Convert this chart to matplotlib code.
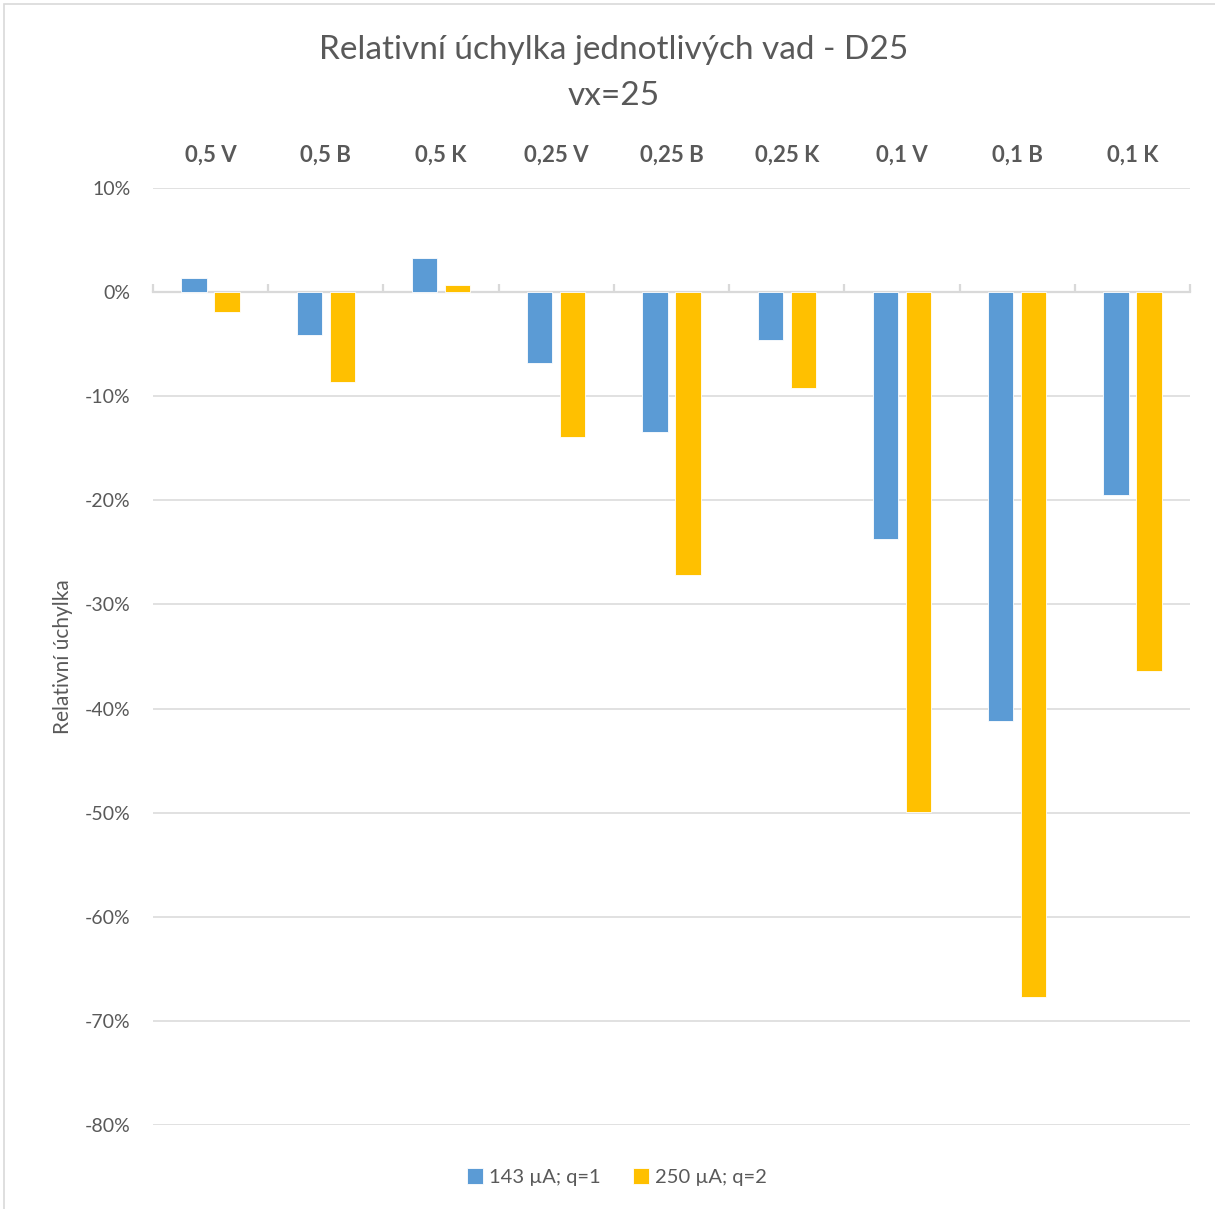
import numpy as np
import matplotlib
matplotlib.use('Agg')
import matplotlib.pyplot as plt
from matplotlib.patches import Rectangle
from matplotlib.ticker import PercentFormatter, FixedLocator, NullFormatter

categories = ['0,5 V', '0,5 B', '0,5 K', '0,25 V', '0,25 B', '0,25 K', '0,1 V', '0,1 B', '0,1 K']
series_names = ['143 µA; q=1', '250 µA; q=2']
q1_values = [1.4, -4.1, 3.3, -6.8, -13.4, -4.6, -23.7, -41.2, -19.5]
q2_values = [-1.9, -8.6, 0.7, -13.9, -27.2, -9.2, -49.9, -67.7, -36.4]
y_ticks = [10, 0, -10, -20, -30, -40, -50, -60, -70, -80]

colors = ['#5B9BD5', '#FFC000']
text_color = '#595959'
grid_color = '#D9D9D9'

plt.rcParams['font.family'] = ['Lato', 'DejaVu Sans']
plt.rcParams['axes.unicode_minus'] = False

fig = plt.figure(figsize=(12.15, 12.09), dpi=100)
ax = fig.add_axes([153 / 1215, 1 - 1125 / 1209, (1190 - 153) / 1215, (1125 - 188) / 1209])

x = np.arange(len(categories))
bar_w = 0.22
offset = 0.143
for vals, color, name, sign in zip([q1_values, q2_values], colors, series_names, [-1, 1]):
    ax.bar(x + sign * offset, vals, width=bar_w, color=color, edgecolor='white',
           linewidth=0.6, label=name, zorder=3)

ax.set_xlim(-0.5, len(categories) - 0.5)
ax.set_ylim(min(y_ticks), max(y_ticks))
ax.set_yticks(y_ticks)
ax.yaxis.set_major_formatter(PercentFormatter(decimals=0))
ax.grid(axis='y', color=grid_color, linewidth=1.1, zorder=0)
ax.set_axisbelow(True)

for sp in ax.spines.values():
    sp.set_visible(False)

# category names across the top
ax.xaxis.tick_top()
ax.set_xticks(x)
ax.set_xticklabels(categories, fontsize=16, fontweight='bold', color=text_color)
ax.tick_params(axis='x', length=0, pad=16)
ax.tick_params(axis='y', length=0, pad=16, labelsize=14, labelcolor=text_color)

# horizontal axis at zero with small tick marks between categories
ylo, yhi = ax.get_ylim()
zero_pos = (0 - ylo) / (yhi - ylo)
sec = ax.secondary_xaxis(zero_pos)
for name, sp in sec.spines.items():
    sp.set_color(grid_color)
    sp.set_linewidth(1.6)
sec.xaxis.set_major_locator(FixedLocator(np.arange(len(categories) + 1) - 0.5))
sec.xaxis.set_major_formatter(NullFormatter())
sec.tick_params(axis='x', direction='out', length=6, width=1.6, color=grid_color)

ax.set_ylabel('Relativní úchylka', fontsize=15, color=text_color, labelpad=9)

fig.text(0.505, 1 - 50 / 1209, 'Relativní úchylka jednotlivých vad - D25', ha='center',
         va='center', fontsize=24, color=text_color)
fig.text(0.505, 1 - 96 / 1209, 'vx=25', ha='center', va='center', fontsize=24, color=text_color)

fig.legend(loc='center', bbox_to_anchor=(0.508, 1 - 1177 / 1209), ncol=2, frameon=False,
           fontsize=14.5, labelcolor=text_color, handlelength=0.8, handleheight=0.8,
           handletextpad=0.3, columnspacing=1.6)

# thin outer frame of the chart area
fig.patches.append(Rectangle((4 / 1215, -0.05), 1.2, 1 - 4 / 1209 + 0.05,
                             transform=fig.transFigure, fill=False,
                             edgecolor=grid_color, linewidth=1.2))

fig.savefig('out.png', dpi=100)
